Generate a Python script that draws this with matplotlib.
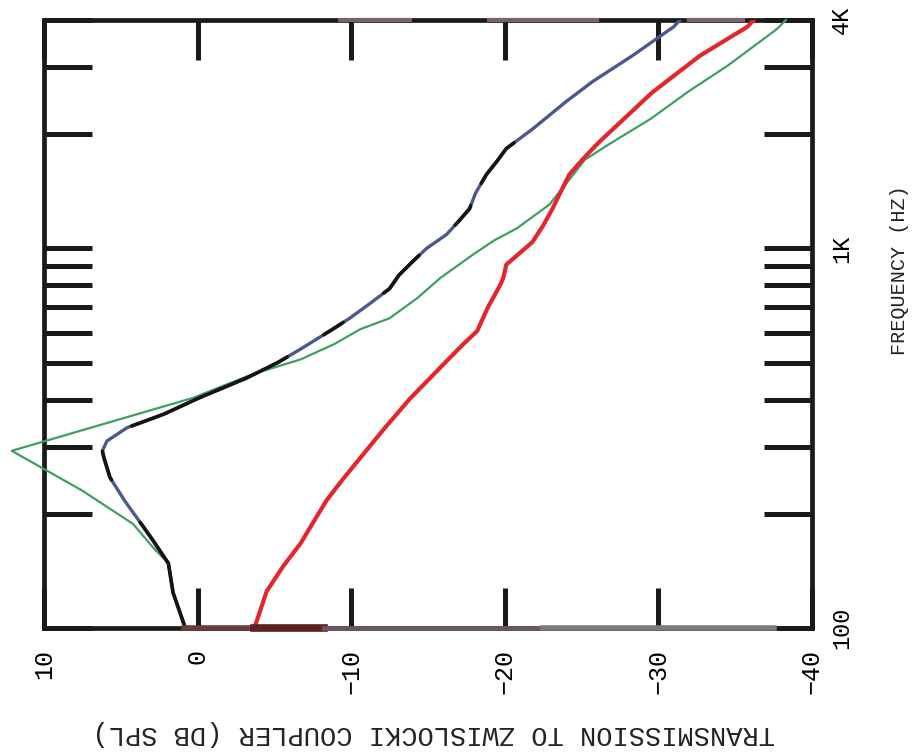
import numpy as np
import matplotlib.pyplot as plt

# frequency (Hz) vs transmission (dB SPL)
f_black = [100, 124, 148, 170, 184, 215, 249, 281, 293, 311, 337, 366, 404, 456, 500, 543,
           613, 655, 720, 784, 850, 924, 1000, 1088, 1180, 1272, 1400, 1566, 1700, 1834, 2063,
           2440, 2750, 3220, 3840, 4000]
db_black = [0.8, 1.6, 1.9, 2.9, 3.5, 4.7, 5.7, 6.1, 6.2, 5.9, 4.6, 2.2, -0.1, -3.2, -5.2, -6.7,
            -8.8, -9.9, -11.3, -12.5, -13.1, -14.0, -14.9, -16.2, -17.0, -17.7, -18.1, -18.8, -19.5, -20.1, -21.8,
            -24.0, -25.7, -28.3, -31.0, -31.4]

f_green = [100, 124, 148, 163, 188, 230, 293, 404, 467, 510, 560, 613, 655, 740, 836, 962,
           1050, 1131, 1305, 1400, 1500, 1712, 1873, 2196, 2600, 3030, 3782, 4000]
db_green = [0.8, 1.6, 1.9, 2.9, 4.2, 7.5, 12.1, 0.3, -3.6, -6.7, -8.9, -10.6, -12.5, -14.3, -15.8, -17.9,
            -19.3, -20.8, -22.9, -23.5, -24.1, -25.2, -26.7, -29.5, -32.0, -34.5, -37.7, -38.3]

f_red = [100, 125, 146, 167, 192, 217, 245, 281, 337, 401, 495, 560, 606, 700, 801, 836, 907, 944,
         1040, 1150, 1272, 1400, 1566, 1723, 1900, 2110, 2578, 3220, 3840, 4000]
db_red = [-3.7, -4.5, -5.6, -6.7, -7.6, -8.4, -9.4, -10.6, -12.2, -13.8, -16.0, -17.3, -18.2, -18.9, -19.7,
          -19.9, -20.1, -20.6, -21.8, -22.5, -23.1, -23.6, -24.2, -25.1, -26.1, -27.3, -29.6, -32.7, -35.8, -36.2]

freq_ticks = [100, 200, 300, 400, 500, 600, 700, 800, 900, 1000, 2000, 3000, 4000]
freq_labels = ['100', '', '', '', '', '', '', '', '', '1K', '', '', '4K']
db_ticks = [10, 0, -10, -20, -30, -40]
db_labels = ['10', '0', '\u221210', '\u221220', '\u221230', '\u221240']

# frequency bands where the upper curve is drawn black instead of slate blue
black_bands = [(100, 190), (245, 292), (340, 520), (590, 640), (760, 960), (1150, 1300), (1480, 1900)]

plt.rcParams['font.family'] = ['Liberation Mono', 'DejaVu Sans Mono']

fig = plt.figure(figsize=(9.2, 7.56), dpi=100)
ax = fig.add_axes([44/920, 1-628/756, 768/920, 608/756])

ax.set_yscale('log')
ax.set_ylim(100, 4000)
ax.set_xlim(10, -40)

# curves (x = dB, y = frequency, chart is turned on its side)
ax.plot(db_green, f_green, color='#3f9f62', lw=1.6, clip_on=False, zorder=3)
ax.plot(db_red, f_red, color='#e2262b', lw=3.0, zorder=4)
fb = np.array(f_black, dtype=float)
ab = np.array(db_black, dtype=float)
ax.plot(ab, fb, color='#4b5890', lw=2.4, zorder=5)
fi = np.geomspace(100, 4000, 600)
ai = np.interp(np.log(fi), np.log(fb), ab)
for lo, hi in black_bands:
    m = (fi >= lo) & (fi <= hi)
    ax.plot(ai[m], fi[m], color='#151515', lw=2.6, zorder=6, solid_capstyle='round')

# axes frame and ticks
for s in ax.spines.values():
    s.set_linewidth(3.4)
    s.set_color('#1a1a1a')

ax.yaxis.set_major_locator(plt.FixedLocator(freq_ticks))
ax.yaxis.set_minor_locator(plt.NullLocator())
ax.set_yticks(freq_ticks)
ax.set_yticklabels(freq_labels)
ax.set_xticks(db_ticks)
ax.set_xticklabels(db_labels)

ax.tick_params(axis='y', which='major', direction='in', length=34.5, width=3.6,
               left=True, right=True, labelleft=False, labelright=True,
               labelrotation=90, labelsize=17, pad=13, color='#1a1a1a')
ax.tick_params(axis='x', which='major', direction='in', length=29, width=3.6,
               top=True, bottom=True, labelbottom=True, labelrotation=90,
               labelsize=18, pad=15, color='#1a1a1a')
for lab in ax.get_yticklabels():
    lab.set_va('center')
for lab in ax.get_xticklabels():
    lab.set_va('top')

# scanned-in purple tick marks
purple = '#6e4a66'
yt = ax.yaxis.get_major_ticks()
for i in [7, 8]:
    yt[i].tick1line.set_color(purple)
for i in [2, 8, 11]:
    yt[i].tick2line.set_color(purple)

# coloured patches on the bottom and top frame lines
frame_bits = [(0.9, -3.7, 100, '#6b3a3a', 4.0), (-3.7, -8.2, 100, '#5a2222', 5.5),
              (-8.2, -22.5, 100, '#6e5566', 3.4), (-22.5, -37.5, 100, '#7a7a7a', 4.0),
              (-9.3, -13.8, 4000, '#7a6070', 3.0), (-19.0, -26.0, 4000, '#7a6070', 3.0),
              (-32.0, -35.5, 4000, '#7a6070', 3.0)]
for a0, a1, fy, c, w in frame_bits:
    ax.plot([a0, a1], [fy, fy], color=c, lw=w, clip_on=False, zorder=7)

fig.text(900/920, 1-270/756, 'FREQUENCY (HZ)', rotation=90, ha='center', va='center',
         fontsize=14.5, color='#222222')
fig.text(434/920, 1-733/756, 'TRANSMISSION TO ZWISLOCKI COUPLER (DB SPL)', rotation=180,
         ha='center', va='center', fontsize=19.5, color='#222222')

fig.savefig('out.png', dpi=100)
